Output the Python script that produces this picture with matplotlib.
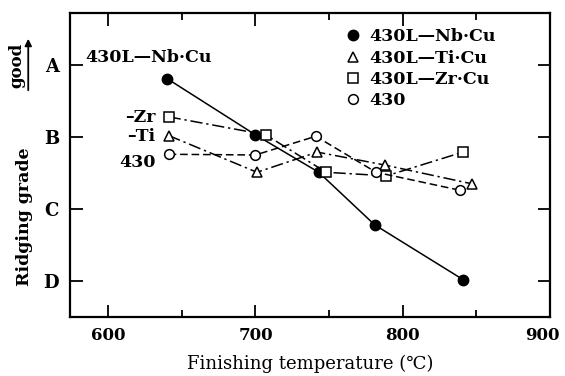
import matplotlib
matplotlib.use("Agg")
import matplotlib.pyplot as plt
from matplotlib.ticker import MultipleLocator
from matplotlib.transforms import ScaledTranslation

plt.rcParams['font.family'] = ['DejaVu Serif', 'DejaVu Sans']
plt.rcParams['font.weight'] = 'bold'

# Data (grade scale: D=1, C=2, B=3, A=4)
nb_x = [640, 700, 743, 781, 841]
nb_y = [3.81, 3.03, 2.51, 1.78, 1.02]
ti_x = [641, 701, 742, 788, 847]
ti_y = [3.02, 2.51, 2.79, 2.61, 2.35]
zr_x = [641, 707, 748, 789, 841]
zr_y = [3.28, 3.03, 2.51, 2.46, 2.79]
c430_x = [641, 700, 741, 782, 839]
c430_y = [2.76, 2.75, 3.01, 2.51, 2.26]

labels = ['430L\u2014Nb\u00b7Cu', '430L\u2014Ti\u00b7Cu', '430L\u2014Zr\u00b7Cu', '430']
grade_ticks = [1, 2, 3, 4]
grade_labels = ['D', 'C', 'B', 'A']
x_ticks = [600, 700, 800, 900]

fig = plt.figure(figsize=(5.65, 3.76), dpi=100)
ax = fig.add_axes([0.124, 0.157, 0.849, 0.808])

lw = 1.1
ax.plot(nb_x, nb_y, '-', color='black', lw=lw, marker='o', ms=7.5,
        mfc='black', mec='black', label=labels[0])
ax.plot(ti_x, ti_y, '-.', color='black', lw=lw, marker='^', ms=7.5,
        mfc='white', mec='black', mew=1.1, label=labels[1], dashes=[8, 2.5, 1.5, 2.5])
ax.plot(zr_x, zr_y, '-.', color='black', lw=lw, marker='s', ms=6.5,
        mfc='white', mec='black', mew=1.1, label=labels[2], dashes=[8, 2.5, 1.5, 2.5])
ax.plot(c430_x, c430_y, '--', color='black', lw=lw, marker='o', ms=7,
        mfc='white', mec='black', mew=1.1, label=labels[3], dashes=[5, 2.5])

ax.set_xlim(574, 900)
ax.set_ylim(0.5, 4.72)
ax.set_xticks(x_ticks)
ax.xaxis.set_minor_locator(MultipleLocator(50))
ax.set_yticks(grade_ticks)
ax.set_yticklabels(grade_labels)

for s in ax.spines.values():
    s.set_linewidth(1.6)

ax.tick_params(axis='both', which='major', direction='in', length=9, width=1.3,
               top=True, right=True, labelsize=12)
ax.tick_params(axis='y', labelsize=13, pad=8)
ax.tick_params(axis='both', which='minor', direction='in', length=5, width=1.3,
               top=True, right=True)
ax.tick_params(axis='x', pad=7)

# nudge the last x tick label left so it stays inside the figure
last = ax.xaxis.get_major_ticks()[-1].label1
last.set_transform(last.get_transform() + ScaledTranslation(-5 / 72, 0, fig.dpi_scale_trans))

ax.set_xlabel('Finishing temperature (\u2103)', fontsize=13, labelpad=8)

fig.text(0.044, 0.425, 'Ridging grade', rotation=90, ha='center', va='center',
         fontsize=12.5)
fig.text(0.030, 0.825, 'good', rotation=90, ha='center', va='center', fontsize=12)
fig.add_artist(matplotlib.patches.FancyArrowPatch(
    (0.050, 1 - 93 / 376), (0.050, 1 - 36 / 376), transform=fig.transFigure,
    arrowstyle='-|>', mutation_scale=10, color='black', lw=1.3))

ax.text(584, 4.1, labels[0], ha='left', va='center', fontsize=12.5)
ax.text(632, 3.27, '\u2013Zr', ha='right', va='center', fontsize=12.5)
ax.text(632, 3.01, '\u2013Ti', ha='right', va='center', fontsize=12.5)
ax.text(632, 2.65, '430', ha='right', va='center', fontsize=12.5)

leg = ax.legend(loc='upper right', frameon=False, fontsize=12.5, handlelength=0.6,
                handletextpad=0.6, labelspacing=0.25, borderaxespad=0.3,
                bbox_to_anchor=(0.912, 0.99))
for h in leg.legend_handles:
    h.set_linestyle('none')

fig.savefig('out.png', dpi=100)
